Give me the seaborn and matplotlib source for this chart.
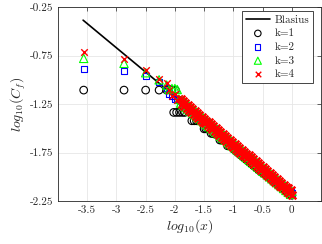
import matplotlib
matplotlib.use("Agg")
import matplotlib.pyplot as plt
import seaborn as sns
import pandas as pd

# ---------------- data ----------------
blasius_x = [-3.57, 0.00]
blasius_y = [-0.385, -2.17]

# abscissae (log10 x) near the leading edge, shared by k=2..4
x_front = [-3.56, -2.87, -2.50, -2.27, -2.14, -2.10, -2.05, -2.00, -1.96, -1.93]

# dense abscissae (log10 x), shared by k=2..4
x_dense = [-1.90, -1.88, -1.86, -1.84, -1.82, -1.80, -1.78, -1.76, -1.74, -1.72,
           -1.70, -1.68, -1.66, -1.64, -1.62, -1.60, -1.58, -1.56, -1.54, -1.52,
           -1.50, -1.48, -1.46, -1.44, -1.42, -1.40, -1.38, -1.36, -1.34, -1.32,
           -1.30, -1.28, -1.26, -1.24, -1.22, -1.20, -1.18, -1.16, -1.14, -1.12,
           -1.10, -1.08, -1.06, -1.04, -1.02, -1.00, -0.98, -0.96, -0.94, -0.92,
           -0.90, -0.88, -0.86, -0.84, -0.82, -0.80, -0.78, -0.76, -0.74, -0.72,
           -0.70, -0.68, -0.66, -0.64, -0.62, -0.60, -0.58, -0.56, -0.54, -0.52,
           -0.50, -0.48, -0.46, -0.44, -0.42, -0.40, -0.38, -0.36, -0.34, -0.32,
           -0.30, -0.28, -0.26, -0.24, -0.22, -0.20, -0.18, -0.16, -0.14, -0.12,
           -0.10, -0.08, -0.06, -0.04, -0.02, 0.00]

# k = 1 (piecewise constant, stepped)
k1_x = [-3.56, -2.87, -2.50, -2.27, -2.14, -2.05, -1.99,
        -2.02, -1.97, -1.92, -1.87, -1.83,
        -1.71, -1.67, -1.63, -1.59,
        -1.50, -1.47, -1.44,
        -1.38, -1.35, -1.32,
        -1.23, -1.20, -1.17,
        -1.10, -1.07,
        -1.00, -0.98, -0.96, -0.94, -0.92, -0.90, -0.88, -0.86, -0.84, -0.82,
        -0.80, -0.78, -0.76, -0.74, -0.72, -0.70, -0.68, -0.66, -0.64, -0.62,
        -0.60, -0.58, -0.56, -0.54, -0.52, -0.50,
        -0.48, -0.46, -0.44, -0.42, -0.40, -0.38, -0.36, -0.34, -0.32, -0.30,
        -0.28, -0.26, -0.24, -0.22, -0.20,
        -0.18, -0.16, -0.14, -0.12, -0.10, -0.08, -0.06, -0.04, -0.02, 0.00]
k1_y = [-1.106, -1.106, -1.106, -1.106, -1.106, -1.106, -1.106,
        -1.336, -1.336, -1.336, -1.336, -1.336,
        -1.422, -1.422, -1.422, -1.422,
        -1.505, -1.505, -1.505,
        -1.552, -1.552, -1.552,
        -1.621, -1.621, -1.621,
        -1.680, -1.680,
        -1.71, -1.72, -1.73, -1.74, -1.75, -1.76, -1.77, -1.78, -1.79, -1.80,
        -1.81, -1.82, -1.83, -1.84, -1.85, -1.86, -1.87, -1.88, -1.89, -1.90,
        -1.91, -1.92, -1.93, -1.94, -1.95, -1.96,
        -1.96, -1.97, -1.98, -1.99, -2.00, -2.01, -2.02, -2.03, -2.04, -2.05,
        -2.06, -2.07, -2.08, -2.09, -2.10,
        -2.10, -2.11, -2.12, -2.13, -2.14, -2.15, -2.16, -2.17, -2.18, -2.19]

# k = 2
k2_y_front = [-0.892, -0.913, -0.958, -1.020, -1.085, -1.14, -1.17, -1.20, -1.20, -1.21]
k2_y_dense = [-1.22, -1.23, -1.24, -1.25, -1.26, -1.27, -1.28, -1.29, -1.30, -1.31,
              -1.32, -1.33, -1.34, -1.35, -1.36, -1.37, -1.38, -1.39, -1.40, -1.41,
              -1.42, -1.43, -1.44, -1.45, -1.46, -1.47, -1.48, -1.49, -1.50, -1.51,
              -1.52, -1.53, -1.54, -1.55, -1.56, -1.57, -1.58, -1.59, -1.60, -1.61,
              -1.62, -1.63, -1.64, -1.65, -1.66, -1.67, -1.68, -1.69, -1.70, -1.71,
              -1.72, -1.73, -1.74, -1.75, -1.76, -1.77, -1.78, -1.79, -1.80, -1.81,
              -1.82, -1.83, -1.84, -1.85, -1.86, -1.87, -1.88, -1.89, -1.90, -1.91,
              -1.92, -1.93, -1.94, -1.95, -1.96, -1.97, -1.98, -1.99, -2.00, -2.01,
              -2.02, -2.03, -2.04, -2.05, -2.06, -2.07, -2.08, -2.09, -2.10, -2.11,
              -2.12, -2.13, -2.14, -2.15, -2.16, -2.17]

# k = 3
k3_y_front = [-0.779, -0.830, -0.927, -1.000, -1.054, -1.10, -1.09, -1.09, -1.10, -1.20]
k3_y_dense = [-1.24, -1.21, -1.26, -1.23, -1.28, -1.25, -1.30, -1.27, -1.32, -1.29,
              -1.34, -1.31, -1.36, -1.33, -1.38, -1.35, -1.40, -1.37, -1.42, -1.39,
              -1.44, -1.41, -1.46, -1.43, -1.48, -1.45, -1.50, -1.47, -1.52, -1.49,
              -1.54, -1.51, -1.56, -1.53, -1.58, -1.55, -1.60, -1.57, -1.62, -1.59,
              -1.64, -1.61, -1.66, -1.63, -1.68, -1.65, -1.70, -1.67, -1.72, -1.69,
              -1.74, -1.71, -1.76, -1.73, -1.78, -1.75, -1.80, -1.77, -1.82, -1.79,
              -1.84, -1.81, -1.86, -1.83, -1.88, -1.85, -1.90, -1.87, -1.92, -1.89,
              -1.94, -1.91, -1.96, -1.93, -1.98, -1.95, -2.00, -1.97, -2.02, -1.99,
              -2.04, -2.01, -2.06, -2.03, -2.08, -2.05, -2.10, -2.07, -2.12, -2.09,
              -2.14, -2.11, -2.16, -2.13, -2.18, -2.15]

# k = 4
k4_y_front = [-0.717, -0.789, -0.900, -0.990, -1.030, -1.10, -1.165, -1.15, -1.21, -1.19]
k4_y_dense = [-1.20, -1.25, -1.22, -1.27, -1.24, -1.29, -1.26, -1.31, -1.28, -1.33,
              -1.30, -1.35, -1.32, -1.37, -1.34, -1.39, -1.36, -1.41, -1.38, -1.43,
              -1.40, -1.45, -1.42, -1.47, -1.44, -1.49, -1.46, -1.51, -1.48, -1.53,
              -1.50, -1.55, -1.52, -1.57, -1.54, -1.59, -1.56, -1.61, -1.58, -1.63,
              -1.60, -1.65, -1.62, -1.67, -1.64, -1.69, -1.66, -1.71, -1.68, -1.73,
              -1.70, -1.75, -1.72, -1.77, -1.74, -1.79, -1.76, -1.81, -1.78, -1.83,
              -1.80, -1.85, -1.82, -1.87, -1.84, -1.89, -1.86, -1.91, -1.88, -1.93,
              -1.90, -1.95, -1.92, -1.97, -1.94, -1.99, -1.96, -2.01, -1.98, -2.03,
              -2.00, -2.05, -2.02, -2.07, -2.04, -2.09, -2.06, -2.11, -2.08, -2.13,
              -2.10, -2.15, -2.12, -2.17, -2.14, -2.19]

x_ticks = [-3.5, -3.0, -2.5, -2.0, -1.5, -1.0, -0.5, 0.0]
x_tick_labels = ["-3.5", "-3", "-2.5", "-2", "-1.5", "-1", "-0.5", "0"]
y_ticks = [-0.25, -0.75, -1.25, -1.75, -2.25]
y_tick_labels = ["-0.25", "-0.75", "-1.25", "-1.75", "-2.25"]

# ---------------- style ----------------
sns.set_style("white")
plt.rcParams["font.family"] = ["cmr10", "DejaVu Serif"]
plt.rcParams["mathtext.fontset"] = "cm"
plt.rcParams["axes.unicode_minus"] = False
plt.rcParams["axes.formatter.use_mathtext"] = True

fig = plt.figure(figsize=(3.22, 2.44), dpi=100)
ax = fig.add_axes([0.180, 0.176, 0.817, 0.795])

df_b = pd.DataFrame({"x": blasius_x, "y": blasius_y})
sns.lineplot(data=df_b, x="x", y="y", ax=ax, color="black", linewidth=1.2,
             label="Blasius", zorder=3)

df1 = pd.DataFrame({"x": k1_x, "y": k1_y})
df2f = pd.DataFrame({"x": x_front, "y": k2_y_front})
df2d = pd.DataFrame({"x": x_dense, "y": k2_y_dense})
df3f = pd.DataFrame({"x": x_front, "y": k3_y_front})
df3d = pd.DataFrame({"x": x_dense, "y": k3_y_dense})
df4f = pd.DataFrame({"x": x_front, "y": k4_y_front})
df4d = pd.DataFrame({"x": x_dense, "y": k4_y_dense})

sns.scatterplot(data=df1, x="x", y="y", ax=ax, marker="o", s=30,
                facecolors="none", edgecolor="black", linewidth=0.8,
                label="k=1", zorder=4)
sns.scatterplot(data=df2f, x="x", y="y", ax=ax, marker="s", s=20,
                facecolors="none", edgecolor="#0000ff", linewidth=0.8,
                label="k=2", zorder=5)
sns.scatterplot(data=df2d, x="x", y="y", ax=ax, marker="s", s=20,
                facecolors="none", edgecolor="#0000ff", linewidth=0.8,
                zorder=5)
sns.scatterplot(data=df3f, x="x", y="y", ax=ax, marker="^", s=36,
                facecolors="none", edgecolor="#00ff00", linewidth=0.8,
                label="k=3", zorder=6)
sns.scatterplot(data=df3d, x="x", y="y", ax=ax, marker="^", s=36,
                facecolors="none", edgecolor="#00ff00", linewidth=0.9,
                zorder=6)
sns.scatterplot(data=df4f, x="x", y="y", ax=ax, marker="x", s=22,
                color="#ff0000", linewidth=1.0,
                label="k=4", zorder=7)
sns.scatterplot(data=df4d, x="x", y="y", ax=ax, marker="x", s=30,
                color="#ff0000", linewidth=1.8,
                zorder=7)

ax.set_xlim(-4.0, 0.5)
ax.set_ylim(-2.25, -0.25)
ax.set_xticks(x_ticks, labels=x_tick_labels)
ax.set_yticks(y_ticks, labels=y_tick_labels)
ax.tick_params(axis="both", direction="in", length=3, width=0.5,
               labelsize=8, colors="#262626", top=True, right=True)
ax.grid(True, color="#e6e6e6", linewidth=0.6)
ax.set_axisbelow(True)
for sp in ax.spines.values():
    sp.set_color("#262626")
    sp.set_linewidth(0.6)

ax.set_xlabel(r"$log_{10}(x)$", fontsize=10, labelpad=1)
ax.set_ylabel(r"$log_{10}(C_f)$", fontsize=10, labelpad=1)

leg = ax.legend(loc="upper right", bbox_to_anchor=(0.97, 0.98), fontsize=8,
                frameon=True, fancybox=False, framealpha=1, edgecolor="#262626",
                borderaxespad=0, handlelength=2.2, handletextpad=0.4,
                labelspacing=0.35, borderpad=0.35, markerscale=0.85)
leg.get_frame().set_linewidth(0.6)

fig.savefig("out.png", dpi=100)
